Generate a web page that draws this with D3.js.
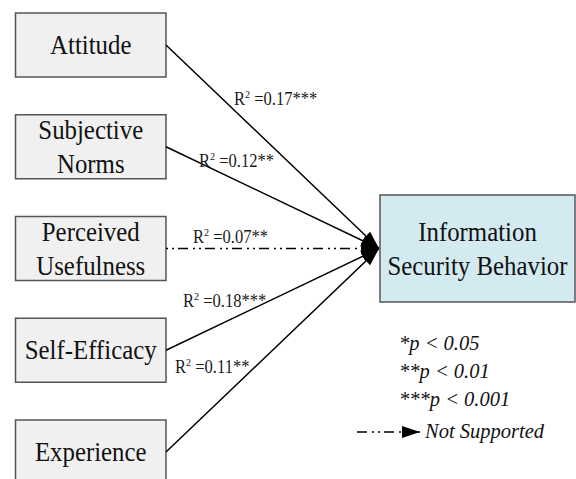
<!DOCTYPE html>
<html>
<head>
<meta charset="utf-8">
<script src="https://cdn.jsdelivr.net/npm/d3@7"></script>
<style>
  html, body { margin: 0; padding: 0; background: #fff; }
</style>
</head>
<body>
<div id="container"></div>
<script>
// predictors, read top to bottom
const factors = ["Attitude", "Subjective Norms", "Perceived Usefulness", "Self-Efficacy", "Experience"];
const factorLines = [["Attitude"], ["Subjective", "Norms"], ["Perceived", "Usefulness"], ["Self-Efficacy"], ["Experience"]];
const r2Values = [0.17, 0.12, 0.07, 0.18, 0.11];
const sigStars = ["***", "**", "**", "***", "**"];
const supported = [true, true, false, true, true];
const outcomeLines = ["Information", "Security Behavior"];
const pLegend = ["*p < 0.05", "**p < 0.01", "***p < 0.001"];
const notSupportedLabel = "Not Supported";

const w = 576;
const h = 479;
const serif = "'Liberation Serif'";
const svg = d3.select("#container").append("svg")
              .attr("width", w).attr("height", h);

const boxLeft = 15.5, boxW = 150.5, boxH = 64;
const target = {x: 380, y: 195, w: 195, h: 107};
const tip = {x: 379, y: 248.5};
const squeeze = 0.92; // glyphs in the source are a bit narrow
const dashDot = "2,4,2,4,10,5";

const yScale = d3.scalePoint()
                .domain(factors)
                .range([45, 452]);

// arrowhead
svg.append("defs").append("marker")
   .attr("id", "arrow")
   .attr("markerUnits", "userSpaceOnUse")
   .attr("viewBox", "0 -7 19 14")
   .attr("refX", 18).attr("refY", 0)
   .attr("markerWidth", 19).attr("markerHeight", 14)
   .attr("orient", "auto")
   .append("path")
   .attr("d", "M0,-6L18,0L0,6Z")
   .attr("fill", "#000");

// boxes for the predictors
const boxes = svg.selectAll("g.factor").data(factors).enter().append("g")
   .attr("class", "factor");

boxes.append("rect")
   .attr("x", boxLeft)
   .attr("y", (d) => yScale(d) - boxH / 2)
   .attr("width", boxW)
   .attr("height", boxH)
   .attr("fill", "#f0f0f0")
   .attr("stroke", "#555")
   .attr("stroke-width", 1.5);

boxes.each(function(d, i) {
  const lines = factorLines[i];
  const cy = yScale(d);
  d3.select(this).selectAll("text").data(lines).enter().append("text")
    .attr("transform", (t, j) => "translate(" + (boxLeft + boxW / 2) + "," +
          (cy + 9 + (j - (lines.length - 1) / 2) * 34) + ") scale(" + squeeze + ",1)")
    .attr("text-anchor", "middle")
    .style("font-family", serif)
    .style("font-size", "27px")
    .style("fill", "#111")
    .text((t) => t);
});

// paths into the outcome
svg.selectAll("line.path").data(factors).enter().append("line")
   .attr("class", "path")
   .attr("x1", boxLeft + boxW)
   .attr("y1", (d) => yScale(d))
   .attr("x2", tip.x)
   .attr("y2", tip.y)
   .attr("stroke", "#000")
   .attr("stroke-width", 1.5)
   .attr("stroke-dasharray", (d, i) => supported[i] ? null : dashDot)
   .attr("marker-end", "url(#arrow)");

// R-squared labels
const labelPos = [[234, 105], [199, 167], [193, 243], [183, 307], [175, 373]];
const labels = svg.selectAll("text.r2").data(r2Values).enter().append("text")
   .attr("class", "r2")
   .attr("transform", (d, i) => "translate(" + labelPos[i][0] + "," + labelPos[i][1] + ") scale(" + squeeze + ",1)")
   .style("font-family", serif)
   .style("font-size", "18px")
   .style("fill", "#1a1a1a");
labels.append("tspan").text("R");
labels.append("tspan").style("font-size", "11px").attr("dy", -7).text("2");
labels.append("tspan").attr("dy", 7).text((d, i) => " =" + d.toFixed(2) + sigStars[i]);

// outcome box
svg.append("rect")
   .attr("x", target.x).attr("y", target.y)
   .attr("width", target.w).attr("height", target.h)
   .attr("fill", "#d2eaf0")
   .attr("stroke", "#555")
   .attr("stroke-width", 1.5);

svg.selectAll("text.outcome").data(outcomeLines).enter().append("text")
   .attr("class", "outcome")
   .attr("transform", (d, i) => "translate(" + (target.x + target.w / 2) + "," +
         (target.y + target.h / 2 + 9 + (i - 0.5) * 34) + ") scale(" + squeeze + ",1)")
   .attr("text-anchor", "middle")
   .style("font-family", serif)
   .style("font-size", "27px")
   .style("fill", "#111")
   .text((d) => d);

// significance legend
svg.selectAll("text.plegend").data(pLegend).enter().append("text")
   .attr("class", "plegend")
   .attr("x", 399)
   .attr("y", (d, i) => 350 + i * 28)
   .style("font-family", serif)
   .style("font-size", "20.5px")
   .style("font-style", "italic")
   .style("fill", "#111")
   .text((d) => d);

svg.append("line")
   .attr("x1", 357).attr("y1", 432)
   .attr("x2", 420).attr("y2", 432)
   .attr("stroke", "#000")
   .attr("stroke-width", 1.5)
   .attr("stroke-dasharray", "10,5,2,4,2,4")
   .attr("marker-end", "url(#arrow)");

svg.append("text")
   .attr("x", 425).attr("y", 438)
   .style("font-family", serif)
   .style("font-size", "20.5px")
   .style("font-style", "italic")
   .style("fill", "#111")
   .text(notSupportedLabel);
</script>
</body>
</html>
